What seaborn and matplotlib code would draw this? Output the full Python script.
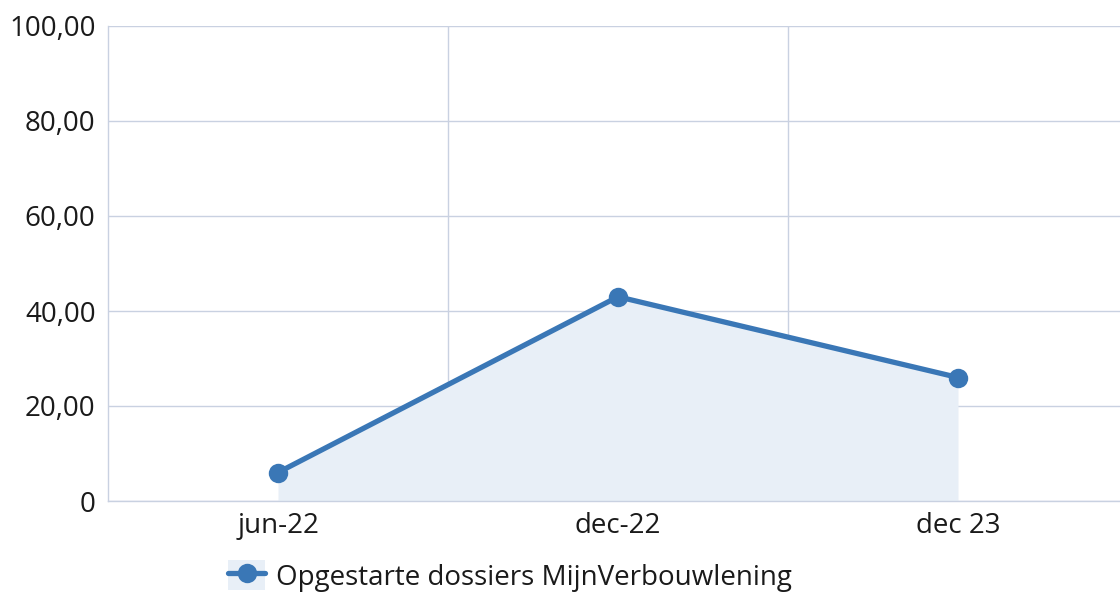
import matplotlib
matplotlib.use("Agg")
import matplotlib.pyplot as plt
import seaborn as sns
import numpy as np
from matplotlib.patches import Patch
from matplotlib.lines import Line2D
from matplotlib.ticker import FixedLocator, FuncFormatter

categories = ["jun-22", "dec-22", "dec 23"]
values = [6, 43, 26]
series_name = "Opgestarte dossiers MijnVerbouwlening"
y_ticks = [0, 20, 40, 60, 80, 100]

sns.set_style("white")
plt.rcParams['font.family'] = ['Open Sans', 'DejaVu Sans']

line_color = "#3a77b6"
fill_color = "#e8eff7"
grid_color = "#c9d1e1"
fs = 20

fig = plt.figure(figsize=(11.2, 5.93), dpi=100)
ax = fig.add_axes([108/1120, 92/593, 1020/1120, 475/593])

x = np.arange(len(categories))
ax.fill_between(x, values, 0, color=fill_color, zorder=1, linewidth=0)
sns.lineplot(x=x, y=values, ax=ax, color=line_color, linewidth=3.8,
             marker='o', markersize=14, markeredgewidth=0, zorder=3)

ax.set_xlim(-0.5, len(categories) - 0.5)
ax.set_ylim(0, 100)
ax.set_xticks(x)
ax.set_xticklabels(categories)
ax.xaxis.set_minor_locator(FixedLocator([0.5, 1.5]))
ax.set_yticks(y_ticks)
ax.yaxis.set_major_formatter(FuncFormatter(lambda v, p: "0" if v == 0 else f"{v:.2f}".replace(".", ",")))

ax.grid(False)
ax.yaxis.grid(True, which='major', color=grid_color, linewidth=1)
ax.xaxis.grid(True, which='minor', color=grid_color, linewidth=1)
ax.set_axisbelow(True)

for s in ["top", "right"]:
    ax.spines[s].set_visible(False)
for s in ["left", "bottom"]:
    ax.spines[s].set_color(grid_color)
    ax.spines[s].set_linewidth(1)

ax.tick_params(axis='both', which='both', length=0, labelsize=fs, colors="#1a1a1a")
ax.tick_params(axis='y', pad=9)
ax.tick_params(axis='x', pad=8)
ax.set_xlabel("")
ax.set_ylabel("")

handle = (Patch(facecolor=fill_color, edgecolor='none'),
          Line2D([], [], color=line_color, linewidth=3.8, marker='o', markersize=14, markeredgewidth=0))
fig.legend([handle], [series_name], loc='center', bbox_to_anchor=(510/1120, 1 - 576/593),
           frameon=False, fontsize=fs, handlelength=1.3, handleheight=1.25,
           handletextpad=0.4, labelcolor="#1a1a1a")

fig.savefig("out.png", dpi=100)
